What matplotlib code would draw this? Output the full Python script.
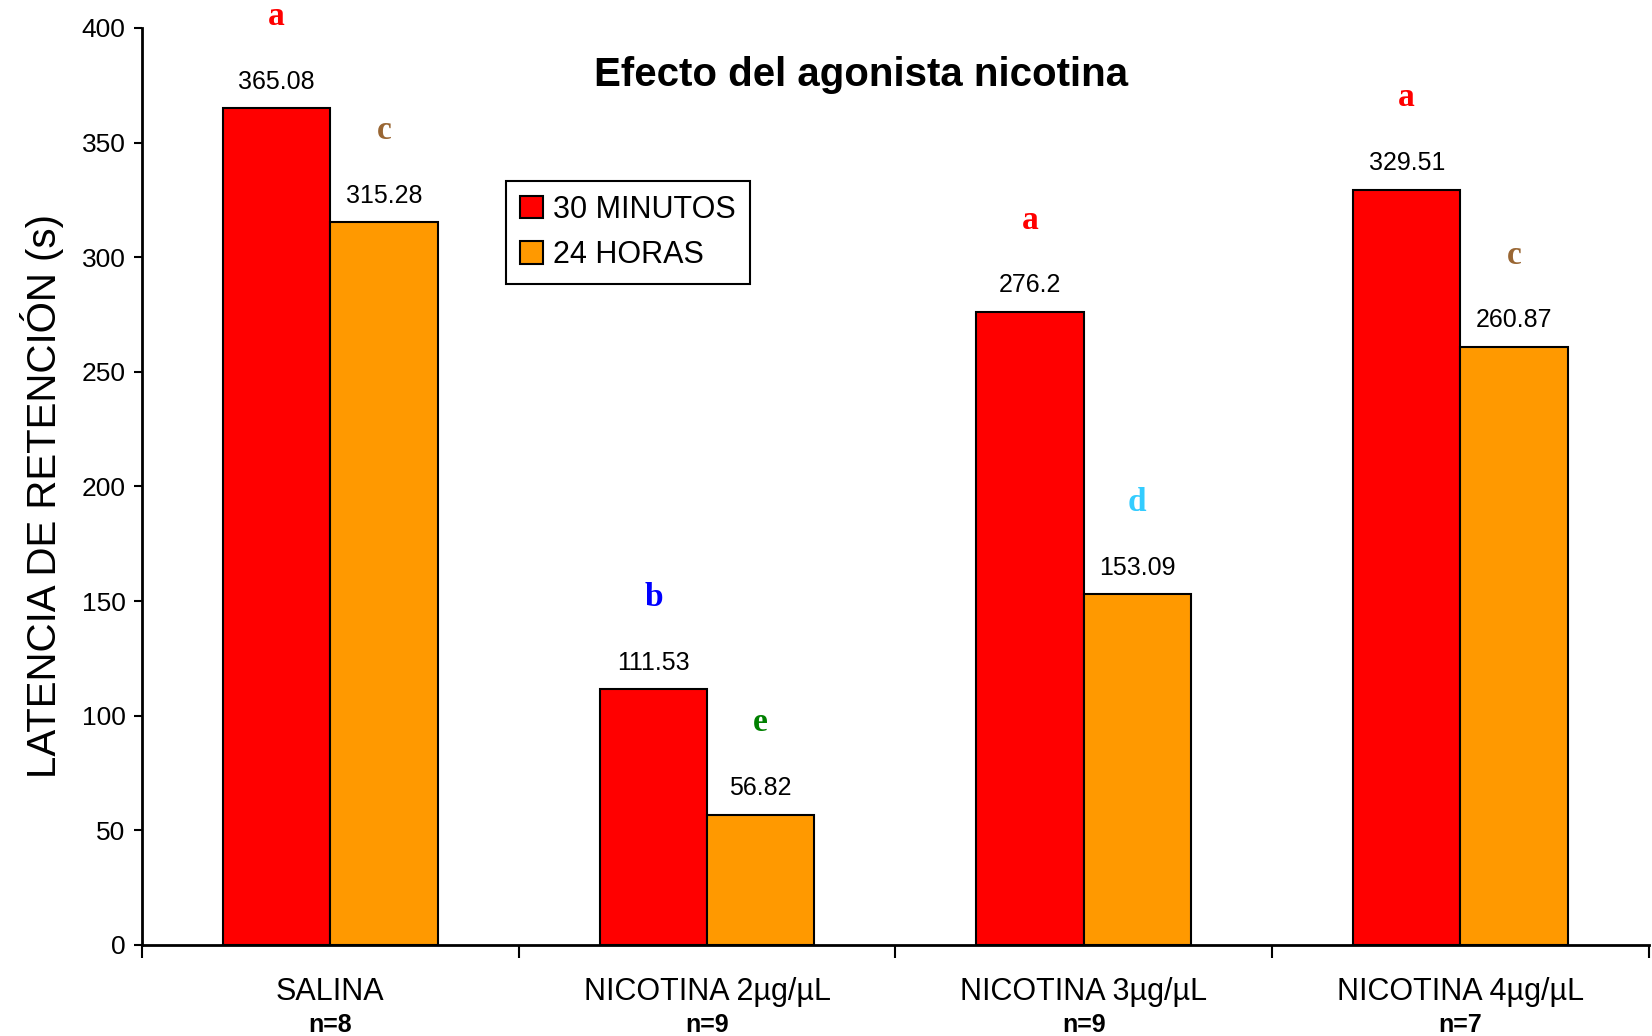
import matplotlib
matplotlib.use("Agg")
import matplotlib.pyplot as plt
import numpy as np

plt.rcParams['font.family'] = ['Liberation Sans', 'DejaVu Sans']

# data
groups = ['SALINA', 'NICOTINA 2µg/µL', 'NICOTINA 3µg/µL', 'NICOTINA 4µg/µL']
n_labels = ['n=8', 'n=9', 'n=9', 'n=7']
min30 = [365.08, 111.53, 276.2, 329.51]
hrs24 = [315.28, 56.82, 153.09, 260.87]
letters30 = ['a', 'b', 'a', 'a']
letters24 = ['c', 'e', 'd', 'c']
letter_colors = {'a': '#FF0000', 'b': '#0000FF', 'c': '#996633',
                 'd': '#33CCFF', 'e': '#008000'}

fig = plt.figure(figsize=(16.52, 10.36), dpi=100)
ax = fig.add_axes([0.086, 0.088, 0.912, 0.885])

x = np.arange(len(groups))
w = 0.285
b1 = ax.bar(x - w / 2, min30, w, color='#FF0000', edgecolor='black', linewidth=1.5, label='30 MINUTOS')
b2 = ax.bar(x + w / 2, hrs24, w, color='#FF9900', edgecolor='black', linewidth=1.5, label='24 HORAS')

# value labels and significance letters
for bars, vals, lets in [(b1, min30, letters30), (b2, hrs24, letters24)]:
    for rect, v, l in zip(bars, vals, lets):
        cx = rect.get_x() + rect.get_width() / 2
        ax.annotate(f'{v:g}', (cx, v), xytext=(0, 19), textcoords='offset points',
                    ha='center', va='center', fontsize=18)
        ax.annotate(l, (cx, v), xytext=(0, 66), textcoords='offset points',
                    ha='center', va='center', fontsize=24, fontweight='bold',
                    family='Liberation Serif', color=letter_colors[l])

ax.set_xlim(-0.5, 3.5)
ax.set_ylim(0, 400)
ax.set_yticks(np.arange(0, 401, 50))
ax.set_xticks(np.arange(-0.5, 3.6, 1))
ax.set_xticklabels([])
ax.tick_params(axis='y', labelsize=19, length=6, width=1.5, pad=6)
ax.tick_params(axis='x', length=9, width=1.5)

for s in ['top', 'right']:
    ax.spines[s].set_visible(False)
for s in ['left', 'bottom']:
    ax.spines[s].set_linewidth(2)

trans = ax.get_xaxis_transform()
for xi, g, n in zip(x, groups, n_labels):
    ax.text(xi, -0.051, g, transform=trans, ha='center', va='center', fontsize=22)
    ax.text(xi, -0.087, n, transform=trans, ha='center', va='center', fontsize=18, fontweight='bold')

ax.set_ylabel('LATENCIA DE RETENCIÓN (s)', fontsize=29)
ax.yaxis.set_label_coords(-0.052, 0.49)

ax.text(0.477, 0.949, 'Efecto del agonista nicotina', transform=ax.transAxes,
        ha='center', va='center', fontsize=29, fontweight='bold')

leg = ax.legend(loc='upper left', bbox_to_anchor=(0.2415, 0.833), fontsize=22,
                fancybox=False, edgecolor='black', framealpha=1,
                handlelength=0.75, handleheight=0.75, handletextpad=0.35,
                borderpad=0.45, labelspacing=0.5, borderaxespad=0)
leg.get_frame().set_linewidth(1.5)

fig.savefig('out.png', dpi=100)
